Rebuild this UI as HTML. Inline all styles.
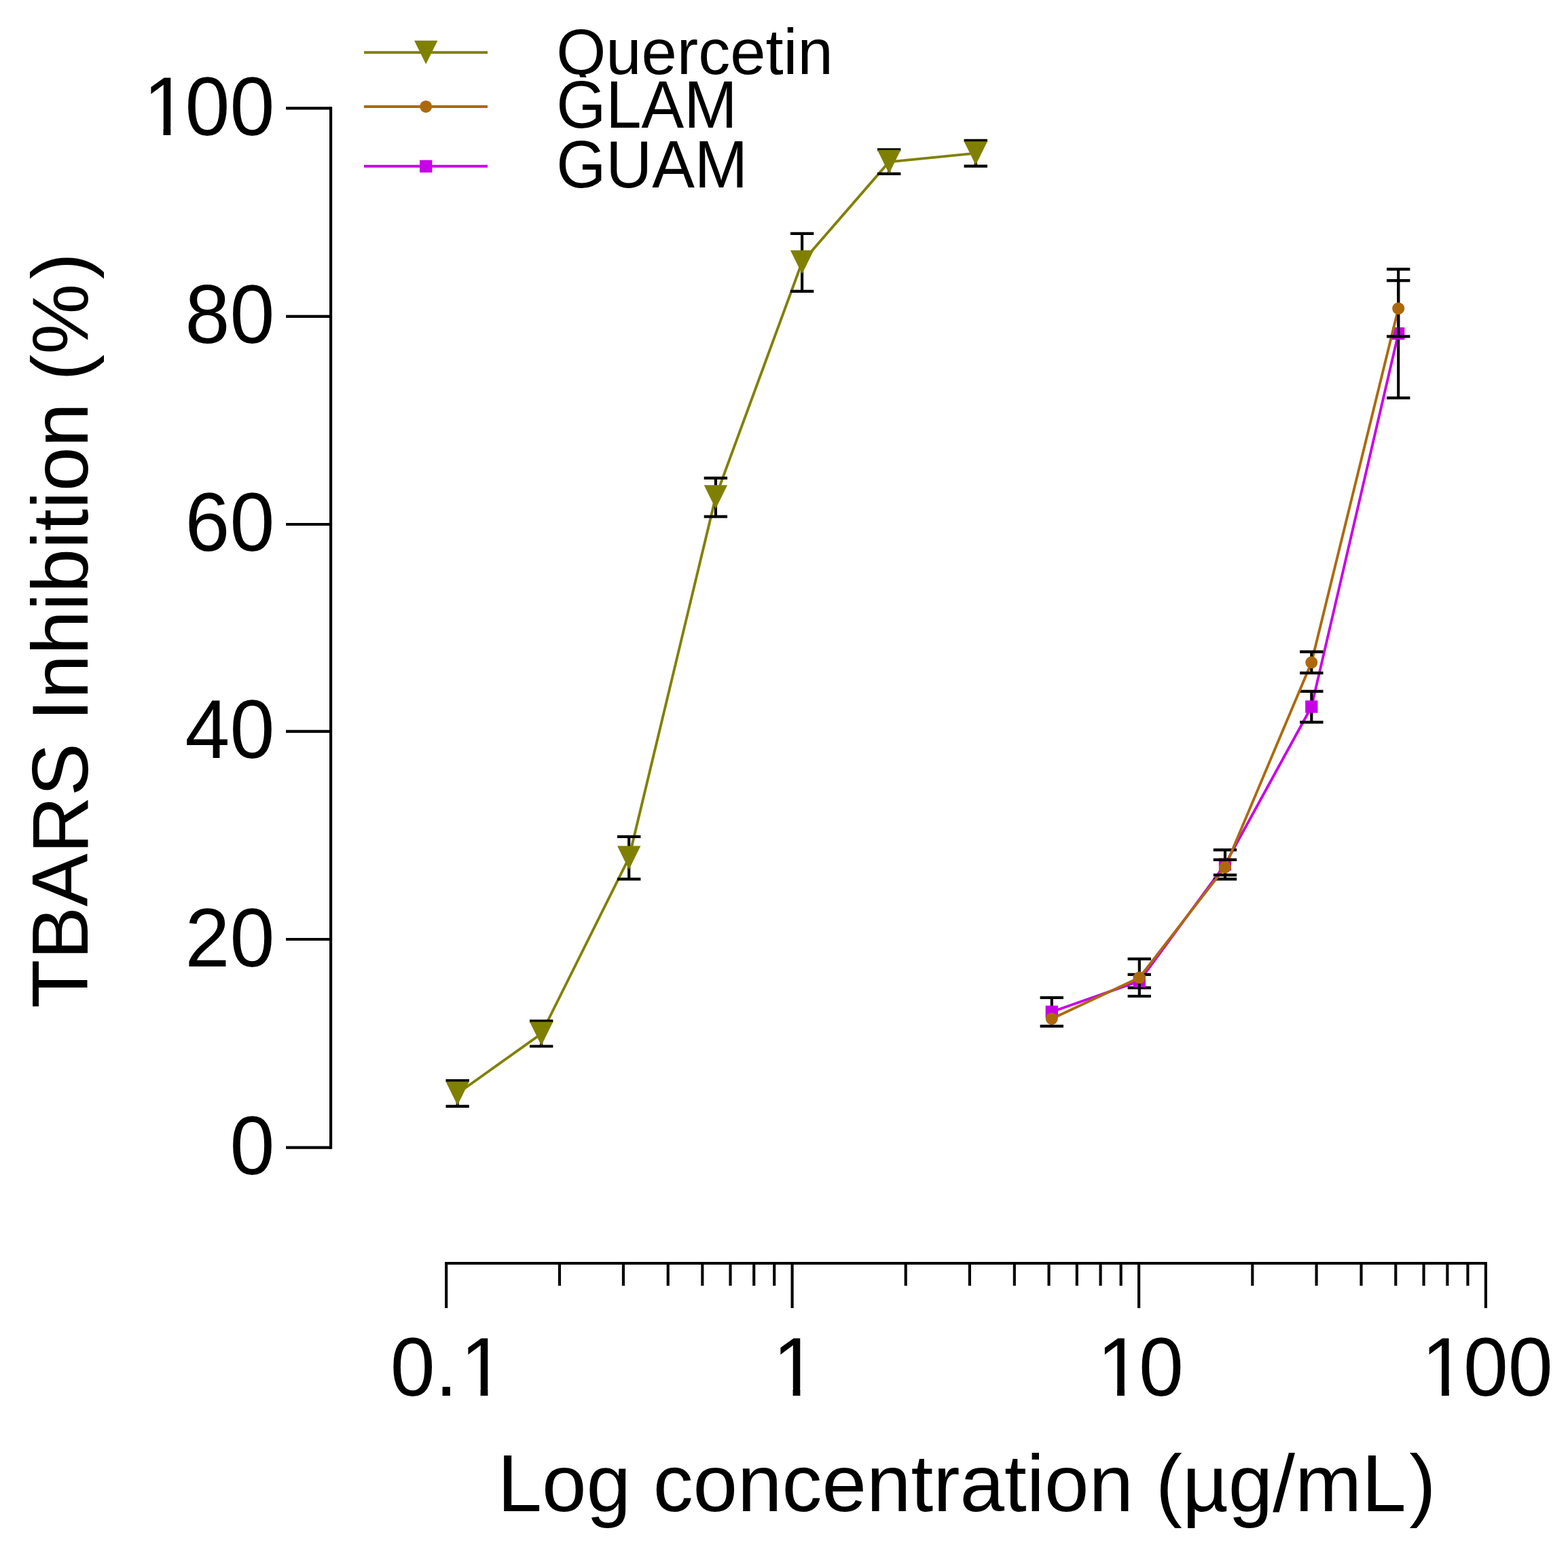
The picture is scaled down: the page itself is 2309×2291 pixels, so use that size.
<!DOCTYPE html>
<html lang="en"><head><meta charset="utf-8"><title>TBARS Inhibition</title>
<style>html,body{margin:0;padding:0;background:#fff}body{width:2309px;height:2291px;overflow:hidden}svg{display:block}</style></head>
<body>
<svg width="2309" height="2291" viewBox="0 0 2309 2291" font-family="'Liberation Sans', sans-serif" fill="#000">
<rect width="2309" height="2291" fill="#fff"/>
<defs><clipPath id="cy100"><path clip-rule="evenodd" d="M-50,-200H400V60H-50ZM11.24,-11.35H33.95V6.00H11.24ZM44.72,-11.35H66.50V6.00H44.72Z"/></clipPath><clipPath id="cx0"><path clip-rule="evenodd" d="M-50,-200H400V60H-50ZM110.07,-11.35H132.78V6.00H110.07ZM143.55,-11.35H165.33V6.00H143.55Z"/></clipPath><clipPath id="cx1"><path clip-rule="evenodd" d="M-50,-200H400V60H-50ZM11.24,-11.35H33.95V6.00H11.24ZM44.72,-11.35H66.50V6.00H44.72Z"/></clipPath><clipPath id="cx2"><path clip-rule="evenodd" d="M-50,-200H400V60H-50ZM11.24,-11.35H33.95V6.00H11.24ZM44.72,-11.35H66.50V6.00H44.72Z"/></clipPath><clipPath id="cx3"><path clip-rule="evenodd" d="M-50,-200H400V60H-50ZM11.24,-11.35H33.95V6.00H11.24ZM44.72,-11.35H66.50V6.00H44.72Z"/></clipPath><clipPath id="cq"><rect x="-20" y="-120" width="600" height="125"/></clipPath></defs>
<g id="axes">
<line x1="487.10" y1="157.28" x2="487.10" y2="1691.67" stroke="#000" stroke-width="4.15"/>
<line x1="421.10" y1="1689.60" x2="487.10" y2="1689.60" stroke="#000" stroke-width="4.15"/>
<line x1="421.10" y1="1383.00" x2="487.10" y2="1383.00" stroke="#000" stroke-width="4.15"/>
<line x1="421.10" y1="1076.85" x2="487.10" y2="1076.85" stroke="#000" stroke-width="4.15"/>
<line x1="421.10" y1="771.95" x2="487.10" y2="771.95" stroke="#000" stroke-width="4.15"/>
<line x1="421.10" y1="465.80" x2="487.10" y2="465.80" stroke="#000" stroke-width="4.15"/>
<line x1="421.10" y1="159.35" x2="487.10" y2="159.35" stroke="#000" stroke-width="4.15"/>
<line x1="655.12" y1="1859.95" x2="2189.97" y2="1859.95" stroke="#000" stroke-width="4.15"/>
<line x1="657.20" y1="1859.95" x2="657.20" y2="1926.00" stroke="#000" stroke-width="4.15"/>
<line x1="823.96" y1="1859.95" x2="823.96" y2="1893.10" stroke="#000" stroke-width="4.15"/>
<line x1="917.95" y1="1859.95" x2="917.95" y2="1893.10" stroke="#000" stroke-width="4.15"/>
<line x1="983.71" y1="1859.95" x2="983.71" y2="1893.10" stroke="#000" stroke-width="4.15"/>
<line x1="1034.34" y1="1859.95" x2="1034.34" y2="1893.10" stroke="#000" stroke-width="4.15"/>
<line x1="1075.51" y1="1859.95" x2="1075.51" y2="1893.10" stroke="#000" stroke-width="4.15"/>
<line x1="1110.21" y1="1859.95" x2="1110.21" y2="1893.10" stroke="#000" stroke-width="4.15"/>
<line x1="1140.20" y1="1859.95" x2="1140.20" y2="1893.10" stroke="#000" stroke-width="4.15"/>
<line x1="1166.60" y1="1859.95" x2="1166.60" y2="1926.00" stroke="#000" stroke-width="4.15"/>
<line x1="1333.72" y1="1859.95" x2="1333.72" y2="1893.10" stroke="#000" stroke-width="4.15"/>
<line x1="1427.92" y1="1859.95" x2="1427.92" y2="1893.10" stroke="#000" stroke-width="4.15"/>
<line x1="1493.82" y1="1859.95" x2="1493.82" y2="1893.10" stroke="#000" stroke-width="4.15"/>
<line x1="1544.56" y1="1859.95" x2="1544.56" y2="1893.10" stroke="#000" stroke-width="4.15"/>
<line x1="1585.82" y1="1859.95" x2="1585.82" y2="1893.10" stroke="#000" stroke-width="4.15"/>
<line x1="1620.59" y1="1859.95" x2="1620.59" y2="1893.10" stroke="#000" stroke-width="4.15"/>
<line x1="1650.64" y1="1859.95" x2="1650.64" y2="1893.10" stroke="#000" stroke-width="4.15"/>
<line x1="1677.10" y1="1859.95" x2="1677.10" y2="1926.00" stroke="#000" stroke-width="4.15"/>
<line x1="1844.31" y1="1859.95" x2="1844.31" y2="1893.10" stroke="#000" stroke-width="4.15"/>
<line x1="1938.57" y1="1859.95" x2="1938.57" y2="1893.10" stroke="#000" stroke-width="4.15"/>
<line x1="2004.51" y1="1859.95" x2="2004.51" y2="1893.10" stroke="#000" stroke-width="4.15"/>
<line x1="2055.28" y1="1859.95" x2="2055.28" y2="1893.10" stroke="#000" stroke-width="4.15"/>
<line x1="2096.56" y1="1859.95" x2="2096.56" y2="1893.10" stroke="#000" stroke-width="4.15"/>
<line x1="2131.36" y1="1859.95" x2="2131.36" y2="1893.10" stroke="#000" stroke-width="4.15"/>
<line x1="2161.42" y1="1859.95" x2="2161.42" y2="1893.10" stroke="#000" stroke-width="4.15"/>
<line x1="2187.90" y1="1859.95" x2="2187.90" y2="1926.00" stroke="#000" stroke-width="4.15"/>
</g>
<g id="ylabels" font-size="118.5">
<text transform="translate(338.40 1729.10) scale(1 1.025)">0</text>
<text transform="translate(272.49 1422.50) scale(1 1.025)">20</text>
<text transform="translate(272.49 1116.35) scale(1 1.025)">40</text>
<text transform="translate(272.49 811.45) scale(1 1.025)">60</text>
<text transform="translate(272.49 505.30) scale(1 1.025)">80</text>
<text transform="translate(206.59 198.85) scale(1 1.025)" dx="4.3 -4.3 0" clip-path="url(#cy100)">100</text>
</g>
<g id="xlabels" font-size="118.5">
<text transform="translate(574.83 2055.30) scale(1 1.025)" dx="0 0 4.3" clip-path="url(#cx0)">0.1</text>
<text transform="translate(1133.65 2055.30) scale(1 1.025)" dx="4.3" clip-path="url(#cx1)">1</text>
<text transform="translate(1611.20 2055.30) scale(1 1.025)" dx="4.3 -4.3" clip-path="url(#cx2)">10</text>
<text transform="translate(2089.04 2055.30) scale(1 1.025)" dx="4.3 -4.3 0" clip-path="url(#cx3)">100</text>
</g>
<text id="xtitle" font-size="117.8" x="732.4" y="2225.2" dx="0 0 0 0 0 0 0 0 0 0 0 0 0 0 0 0 0 0 0 0 0 0 0 0 4.5">Log concentration (µg/mL)</text>
<text id="ytitle" font-size="117.0" transform="translate(129.35 1484.25) rotate(-90)" dx="0 0 0 0 0 0 0 0 0 0 0 0 0 0 0 0 0 0 0 6.5">TBARS Inhibition (%)</text>
<g id="quercetin">
<polyline points="673.70,1610.00 797.20,1522.00 926.20,1263.00 1053.90,731.80 1181.10,386.00 1309.20,238.30 1436.80,225.60" fill="none" stroke="#808000" stroke-width="3.85" stroke-linejoin="round"/>
<line x1="673.70" y1="1591.00" x2="673.70" y2="1628.90" stroke="#000" stroke-width="4.15"/><line x1="656.50" y1="1591.00" x2="690.90" y2="1591.00" stroke="#000" stroke-width="4.15"/><line x1="656.50" y1="1628.90" x2="690.90" y2="1628.90" stroke="#000" stroke-width="4.15"/><line x1="797.20" y1="1503.30" x2="797.20" y2="1540.50" stroke="#000" stroke-width="4.15"/><line x1="780.00" y1="1503.30" x2="814.40" y2="1503.30" stroke="#000" stroke-width="4.15"/><line x1="780.00" y1="1540.50" x2="814.40" y2="1540.50" stroke="#000" stroke-width="4.15"/><line x1="926.20" y1="1231.80" x2="926.20" y2="1294.40" stroke="#000" stroke-width="4.15"/><line x1="909.00" y1="1231.80" x2="943.40" y2="1231.80" stroke="#000" stroke-width="4.15"/><line x1="909.00" y1="1294.40" x2="943.40" y2="1294.40" stroke="#000" stroke-width="4.15"/><line x1="1053.90" y1="703.90" x2="1053.90" y2="760.60" stroke="#000" stroke-width="4.15"/><line x1="1036.70" y1="703.90" x2="1071.10" y2="703.90" stroke="#000" stroke-width="4.15"/><line x1="1036.70" y1="760.60" x2="1071.10" y2="760.60" stroke="#000" stroke-width="4.15"/><line x1="1181.10" y1="343.80" x2="1181.10" y2="428.90" stroke="#000" stroke-width="4.15"/><line x1="1163.90" y1="343.80" x2="1198.30" y2="343.80" stroke="#000" stroke-width="4.15"/><line x1="1163.90" y1="428.90" x2="1198.30" y2="428.90" stroke="#000" stroke-width="4.15"/><line x1="1309.20" y1="220.40" x2="1309.20" y2="255.80" stroke="#000" stroke-width="4.15"/><line x1="1292.00" y1="220.40" x2="1326.40" y2="220.40" stroke="#000" stroke-width="4.15"/><line x1="1292.00" y1="255.80" x2="1326.40" y2="255.80" stroke="#000" stroke-width="4.15"/><line x1="1436.80" y1="206.90" x2="1436.80" y2="244.60" stroke="#000" stroke-width="4.15"/><line x1="1419.60" y1="206.90" x2="1454.00" y2="206.90" stroke="#000" stroke-width="4.15"/><line x1="1419.60" y1="244.60" x2="1454.00" y2="244.60" stroke="#000" stroke-width="4.15"/>
<polygon points="656.50,1592.55 690.90,1592.55 673.70,1627.45" fill="#808000"/>
<polygon points="780.00,1504.55 814.40,1504.55 797.20,1539.45" fill="#808000"/>
<polygon points="909.00,1245.55 943.40,1245.55 926.20,1280.45" fill="#808000"/>
<polygon points="1036.70,714.35 1071.10,714.35 1053.90,749.25" fill="#808000"/>
<polygon points="1163.90,368.55 1198.30,368.55 1181.10,403.45" fill="#808000"/>
<polygon points="1292.00,220.85 1326.40,220.85 1309.20,255.75" fill="#808000"/>
<polygon points="1419.60,208.15 1454.00,208.15 1436.80,243.05" fill="#808000"/>
</g>
<g id="guam">
<polyline points="1548.80,1489.80 1677.80,1444.60 1804.00,1272.80 1931.30,1040.50 2059.20,491.10" fill="none" stroke="#C800E8" stroke-width="3.85" stroke-linejoin="round"/>
<line x1="1548.80" y1="1468.90" x2="1548.80" y2="1510.90" stroke="#000" stroke-width="4.15"/><line x1="1531.60" y1="1468.90" x2="1566.00" y2="1468.90" stroke="#000" stroke-width="4.15"/><line x1="1531.60" y1="1510.90" x2="1566.00" y2="1510.90" stroke="#000" stroke-width="4.15"/><line x1="1677.80" y1="1434.90" x2="1677.80" y2="1454.40" stroke="#000" stroke-width="4.15"/><line x1="1660.60" y1="1434.90" x2="1695.00" y2="1434.90" stroke="#000" stroke-width="4.15"/><line x1="1660.60" y1="1454.40" x2="1695.00" y2="1454.40" stroke="#000" stroke-width="4.15"/><line x1="1804.00" y1="1251.30" x2="1804.00" y2="1294.30" stroke="#000" stroke-width="4.15"/><line x1="1786.80" y1="1251.30" x2="1821.20" y2="1251.30" stroke="#000" stroke-width="4.15"/><line x1="1786.80" y1="1294.30" x2="1821.20" y2="1294.30" stroke="#000" stroke-width="4.15"/><line x1="1931.30" y1="1017.90" x2="1931.30" y2="1063.40" stroke="#000" stroke-width="4.15"/><line x1="1914.10" y1="1017.90" x2="1948.50" y2="1017.90" stroke="#000" stroke-width="4.15"/><line x1="1914.10" y1="1063.40" x2="1948.50" y2="1063.40" stroke="#000" stroke-width="4.15"/><line x1="2059.20" y1="396.30" x2="2059.20" y2="585.90" stroke="#000" stroke-width="4.15"/><line x1="2042.00" y1="396.30" x2="2076.40" y2="396.30" stroke="#000" stroke-width="4.15"/><line x1="2042.00" y1="585.90" x2="2076.40" y2="585.90" stroke="#000" stroke-width="4.15"/>
<rect x="1539.65" y="1480.65" width="18.3" height="18.3" fill="#C800E8"/>
<rect x="1668.65" y="1435.45" width="18.3" height="18.3" fill="#C800E8"/>
<rect x="1794.85" y="1263.65" width="18.3" height="18.3" fill="#C800E8"/>
<rect x="1922.15" y="1031.35" width="18.3" height="18.3" fill="#C800E8"/>
<rect x="2050.05" y="481.95" width="18.3" height="18.3" fill="#C800E8"/>
</g>
<g id="glam">
<polyline points="1548.80,1499.90 1677.80,1439.40 1804.00,1277.00 1931.30,975.30 2059.20,454.20" fill="none" stroke="#AC690C" stroke-width="3.85" stroke-linejoin="round"/>
<line x1="1677.80" y1="1411.90" x2="1677.80" y2="1466.70" stroke="#000" stroke-width="4.15"/><line x1="1660.60" y1="1411.90" x2="1695.00" y2="1411.90" stroke="#000" stroke-width="4.15"/><line x1="1660.60" y1="1466.70" x2="1695.00" y2="1466.70" stroke="#000" stroke-width="4.15"/><line x1="1804.00" y1="1265.90" x2="1804.00" y2="1288.30" stroke="#000" stroke-width="4.15"/><line x1="1786.80" y1="1265.90" x2="1821.20" y2="1265.90" stroke="#000" stroke-width="4.15"/><line x1="1786.80" y1="1288.30" x2="1821.20" y2="1288.30" stroke="#000" stroke-width="4.15"/><line x1="1931.30" y1="959.60" x2="1931.30" y2="990.80" stroke="#000" stroke-width="4.15"/><line x1="1914.10" y1="959.60" x2="1948.50" y2="959.60" stroke="#000" stroke-width="4.15"/><line x1="1914.10" y1="990.80" x2="1948.50" y2="990.80" stroke="#000" stroke-width="4.15"/><line x1="2059.20" y1="413.10" x2="2059.20" y2="495.40" stroke="#000" stroke-width="4.15"/><line x1="2042.00" y1="413.10" x2="2076.40" y2="413.10" stroke="#000" stroke-width="4.15"/><line x1="2042.00" y1="495.40" x2="2076.40" y2="495.40" stroke="#000" stroke-width="4.15"/>
<circle cx="1548.80" cy="1499.90" r="9.0" fill="#AC690C"/>
<circle cx="1677.80" cy="1439.40" r="9.0" fill="#AC690C"/>
<circle cx="1804.00" cy="1277.00" r="9.0" fill="#AC690C"/>
<circle cx="1931.30" cy="975.30" r="9.0" fill="#AC690C"/>
<circle cx="2059.20" cy="454.20" r="9.0" fill="#AC690C"/>
</g>
<g id="legend">
<line x1="536.10" y1="77.15" x2="718.00" y2="77.15" stroke="#808000" stroke-width="4.0"/>
<polygon points="610.00,59.70 644.40,59.70 627.20,94.60" fill="#808000"/>
<text font-size="94" transform="translate(819.2 108.7) scale(1 1)" clip-path="url(#cq)">Quercetin</text>
<line x1="536.10" y1="156.90" x2="718.00" y2="156.90" stroke="#AC690C" stroke-width="4.0"/>
<circle cx="627.20" cy="156.90" r="9.0" fill="#AC690C"/>
<text font-size="94" transform="translate(819.2 188.0) scale(1 1.04)">GLAM</text>
<line x1="536.10" y1="244.85" x2="718.00" y2="244.85" stroke="#C800E8" stroke-width="4.0"/>
<rect x="618.05" y="235.70" width="18.3" height="18.3" fill="#C800E8"/>
<text font-size="94" transform="translate(819.2 275.7) scale(1 1.04)">GUAM</text>
</g>
</svg>
</body></html>
